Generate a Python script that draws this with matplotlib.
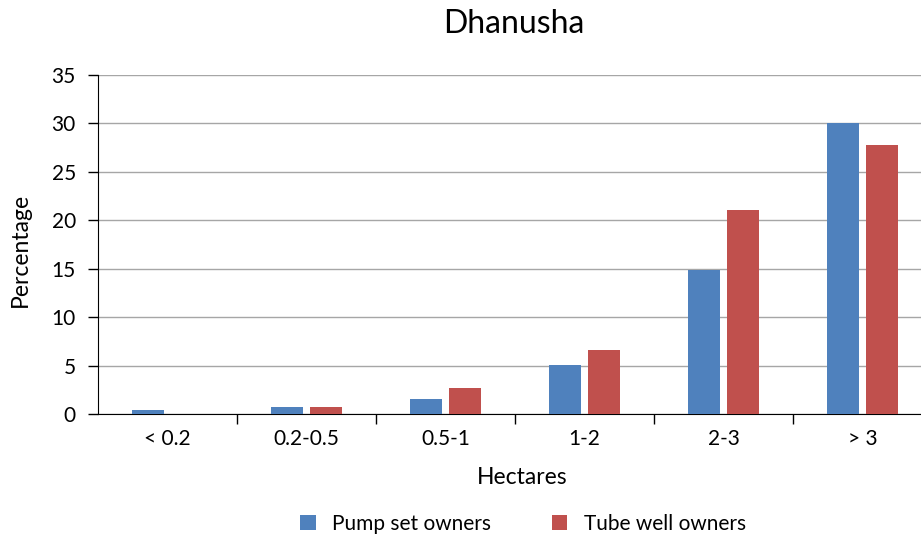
import matplotlib.pyplot as plt
import numpy as np

categories = ["< 0.2", "0.2-0.5", "0.5-1", "1-2", "2-3", "> 3"]
pump_set = [0.4, 0.7, 1.55, 5.05, 14.9, 30.0]
tube_well = [0.0, 0.7, 2.7, 6.6, 21.05, 27.75]

plt.rcParams['font.family'] = ['Lato', 'DejaVu Sans']

fig = plt.figure(figsize=(9.21, 5.41), dpi=100)
W, H = 921, 541
ax = fig.add_axes([98 / W, (H - 414) / H, 834 / W, 339 / H])

x = np.arange(len(categories))
w = 0.225
ax.bar(x - 0.14, pump_set, w, color='#4F81BD', label='Pump set owners', zorder=3)
ax.bar(x + 0.14, tube_well, w, color='#C0504D', label='Tube well owners', zorder=3)

ax.set_xlim(-0.5, len(categories) - 0.5)
ax.set_ylim(0, 35)
ax.set_yticks(range(0, 36, 5))
ax.tick_params(axis='y', labelsize=15, length=7, width=1, pad=9)
ax.grid(axis='y', color='#a6a6a6', linewidth=1, zorder=0)

# category labels in the middle, tick marks between categories
ax.set_xticks(x)
ax.set_xticklabels(categories, fontsize=15)
ax.tick_params(axis='x', which='major', length=0, pad=11)
ax.set_xticks(np.arange(len(categories)) + 0.5, minor=True)
ax.tick_params(axis='x', which='minor', length=7, width=1)

for s in ['top', 'right']:
    ax.spines[s].set_visible(False)
ax.spines['left'].set_color('black')
ax.spines['bottom'].set_color('black')

fig.text(20 / W, 1 - 250 / H, 'Percentage', fontsize=16.5, rotation=90,
         ha='center', va='center')
fig.text(522 / W, 1 - 478 / H, 'Hectares', fontsize=16.5, ha='center', va='center')
fig.text(514 / W, 1 - 24 / H, 'Dhanusha', fontsize=23, ha='center', va='center')

fig.legend(loc='center', bbox_to_anchor=(523 / W, 1 - 524 / H), ncol=2, frameon=False,
           fontsize=15, handlelength=0.75, handleheight=0.75, handletextpad=0.8,
           columnspacing=2.9)

fig.savefig('out.png', dpi=100)
